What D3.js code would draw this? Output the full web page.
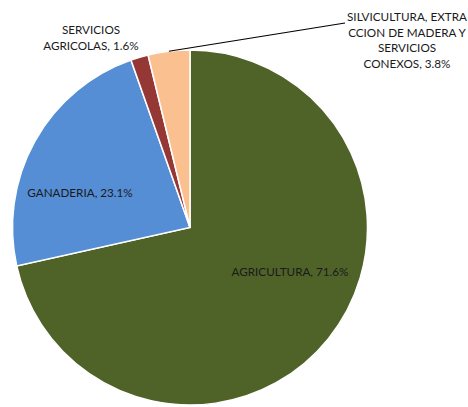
<!DOCTYPE html>
<html>
<head>
    <meta charset="utf-8">
    <script src="https://d3js.org/d3.v7.min.js"></script>
    <style>
        body { margin: 0; background: #fff; }
        text { font-family: Lato, "Open Sans", sans-serif; font-size: 11.7px; fill: #1a1a1a; }
    </style>
</head>
<body>
    <div id="chart"></div>
    <script>
        var categories = ["AGRICULTURA", "GANADERIA", "SERVICIOS AGRICOLAS", "SILVICULTURA, EXTRACCION DE MADERA Y SERVICIOS CONEXOS"];
        var shares = [71.6, 23.1, 1.6, 3.8];
        var colors = ["#4F6228", "#558ED5", "#953735", "#FAC090"];
        // label lines as they wrap in the original
        var labelLines = [
            ["AGRICULTURA, 71.6%"],
            ["GANADERIA, 23.1%"],
            ["SERVICIOS", "AGRICOLAS, 1.6%"],
            ["SILVICULTURA, EXTRA", "CCION DE MADERA Y", "SERVICIOS", "CONEXOS, 3.8%"]
        ];

        var width = 468, height = 407;
        var cx = 190, cy = 227.5, r = 177.5;

        var svg = d3.select("#chart").append("svg")
            .attr("width", width)
            .attr("height", height);

        var data = categories.map(function(c, i) { return { name: c, value: shares[i], i: i }; });

        var pie = d3.pie().sort(null).value(function(d) { return d.value; });
        var arc = d3.arc().innerRadius(0).outerRadius(r);
        var arcs = pie(data);

        var g = svg.append("g").attr("transform", "translate(" + cx + "," + cy + ")");

        g.selectAll("path")
            .data(arcs)
            .enter().append("path")
            .attr("d", arc)
            .attr("fill", function(d) { return colors[d.data.i]; })
            .attr("stroke", "#fff")
            .attr("stroke-width", 1.5);

        // label positions (absolute), centre x and first baseline
        var labelPos = [
            { x: 290, y: 276 },
            { x: 80, y: 197 },
            { x: 91, y: 34 },
            { x: 407, y: 21 }
        ];
        var lineH = 15.5;

        labelLines.forEach(function(lines, i) {
            var t = svg.append("text")
                .attr("text-anchor", "middle");
            lines.forEach(function(l, k) {
                t.append("tspan")
                    .attr("x", labelPos[i].x)
                    .attr("y", labelPos[i].y + k * lineH)
                    .text(l);
            });
        });

        // leader line for the small forestry slice
        var a = (arcs[3].startAngle + arcs[3].endAngle) / 2;
        var ex = cx + Math.sin(a) * r, ey = cy - Math.cos(a) * r;
        svg.append("line")
            .attr("x1", ex).attr("y1", ey)
            .attr("x2", 345).attr("y2", 23)
            .attr("stroke", "#000")
            .attr("stroke-width", 1.2);
    </script>
</body>
</html>
